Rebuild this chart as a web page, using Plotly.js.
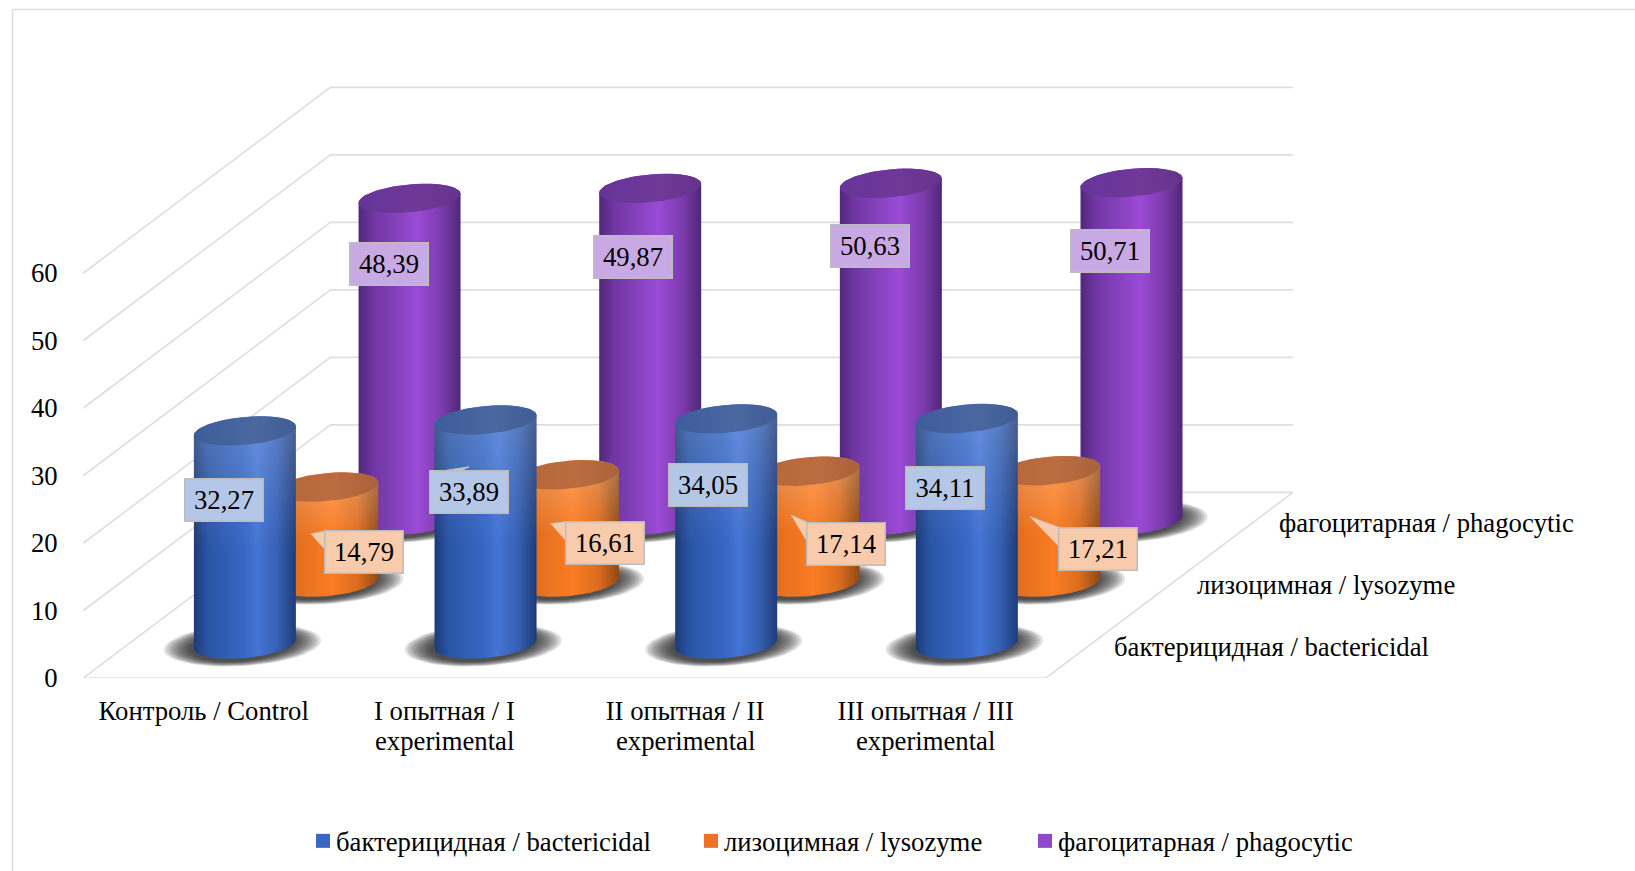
<!DOCTYPE html>
<html>
<head>
<meta charset="utf-8">
<script src="https://cdn.plot.ly/plotly-3.0.1.min.js"></script>
<style>
html,body{margin:0;padding:0;background:#fff}
#chart{width:1635px;height:871px}
/* Keep each legend swatch close to its text */
.legend .legendsymbols,.legend2 .legendsymbols,.legend3 .legendsymbols{transform:translateX(7px)}
</style>
</head>
<body>
<div id="chart"></div>
<script>
// Activity measurements per group
const categories = ['Контроль / Control', 'I опытная / I<br>experimental', 'II опытная / II<br>experimental', 'III опытная / III<br>experimental'];
const seriesNames = ['бактерицидная / bactericidal', 'лизоцимная / lysozyme', 'фагоцитарная / phagocytic'];
const bactericidal = [32.27, 33.89, 34.05, 34.11];
const lysozyme = [14.79, 16.61, 17.14, 17.21];
const phagocytic = [48.39, 49.87, 50.63, 50.71];
const valueTicks = [0, 10, 20, 30, 40, 50, 60];

// Callout offsets of the value labels from the top of each cylinder, in pixels
const labelDx = [[-21, -17, -18, -22], [37, 37, 37, 49], [-21, -17, -21, -22]];
const labelDy = [[71, 74, 68, 71], [67, 70, 74, 80], [67, 70, 64, 70]];
// Pointer tips of the lysozyme callouts, relative to the box corner, in pixels
const tailDx = [-14, -15, -15, -29];
const tailDy = [3, 2, -7, -11];

// Page scale of the oblique drawing
const W = 1635, H = 871, M_L = 67, M_B = 193;
const PX_CAT = 240.65, PX_VAL = 6.75, ORIGIN_X = 83.4, ORIGIN_Y = 678;
const DEPTH_X = 247 / PX_CAT, DEPTH_Y = 185.6 / PX_VAL;
const LAYER = [1 / 6, 1 / 2, 5 / 6];
const RX = 51 / PX_CAT, RY = 14 / PX_VAL, TILT = 4.5 / PX_VAL;
const TOP_INSET = 0.25, BASE_LIFT = 0.45;
const TEXT_SIZE = 26.7;

const px = (c, d) => c + d * DEPTH_X;
const py = (v, d) => v + d * DEPTH_Y;
const font = 'Liberation Serif, Times New Roman, serif';

const palette = [
  { body: [[0, '#1c3a78'], [0.14, '#2a55a6'], [0.5, '#3768c6'], [0.62, '#4474d4'], [0.82, '#3560b4'], [1, '#1f3c78']],
    cap: [[0, '#3d5c9c'], [0.6, '#4a689f'], [1, '#3f5c95']], glow: 0.2, label: '#b4c7e7', swatch: '#3a67c4' },
  { body: [[0, '#a85618'], [0.14, '#dd6c1c'], [0.55, '#fb7d24'], [0.8, '#dc6c1e'], [1, '#8f4a16']],
    cap: [[0, '#b5673a'], [0.6, '#bb6c40'], [1, '#a9623a']], glow: 0.26, label: '#f8cbad', swatch: '#ec7328' },
  { body: [[0, '#50277a'], [0.14, '#7036a2'], [0.58, '#9a4bd6'], [0.82, '#7b3bac'], [1, '#4f2778']],
    cap: [[0, '#66349a'], [0.6, '#6f3997'], [1, '#65338c']], glow: 0, label: '#c9a9e4', swatch: '#9249c9' }
];

const traces = [];
const skip = { mode: 'lines', line: { width: 0 }, hoverinfo: 'skip', showlegend: false };

// Walls and floor grid
const gx = [], gy = [];
valueTicks.forEach(v => {
  gx.push(px(0, 0), px(0, 1), px(4, 1), null);
  gy.push(py(v, 0), py(v, 1), py(v, 1), null);
});
gx.push(px(0, 0), px(4, 0), px(4, 1));
gy.push(py(0, 0), py(0, 0), py(0, 1));
traces.push({ x: gx, y: gy, mode: 'lines', line: { color: '#dedede', width: 1.6 }, hoverinfo: 'skip', showlegend: false });

// Sheared ellipse around a centre, used for caps, bases and shadows
function ellipse(cx, cy, rx, ry, tilt, from, to) {
  const xs = [], ys = [];
  for (let i = 0; i <= 48; i++) {
    const t = from + (to - from) * i / 48;
    xs.push(cx + rx * Math.cos(t));
    ys.push(cy + ry * Math.sin(t) + tilt * Math.cos(t));
  }
  return [xs, ys];
}

function cylinder(c, d, v, colors) {
  const cx = px(c + 0.5, d);
  const base = py(BASE_LIFT, d), top = py(v - TOP_INSET, d);

  // Soft contact shadow
  for (let k = 0; k < 10; k++) {
    const f = k / 9;
    const [sx, sy] = ellipse(cx - 2.5 / PX_CAT, base - 1 / PX_VAL, RX * (1.54 - 0.5 * f), RY * (1.5 - 0.35 * f), TILT, 0, 2 * Math.PI);
    traces.push({ ...skip, x: sx, y: sy, fill: 'toself', fillcolor: 'rgba(20,20,20,0.13)' });
  }

  // Wall: front half of the base arc closed by the rear of the top ring
  const [bx, by] = ellipse(cx, base, RX, RY, TILT, Math.PI, 2 * Math.PI);
  const [tx, ty] = ellipse(cx, top, RX, RY, TILT, 0, Math.PI);
  const wx = bx.concat(tx), wy = by.concat(ty);
  traces.push({ ...skip, x: wx, y: wy, fill: 'toself',
    fillgradient: { type: 'horizontal', colorscale: colors.body } });
  if (colors.glow) {
    traces.push({ ...skip, x: wx, y: wy, fill: 'toself',
      fillgradient: { type: 'vertical', colorscale: [[0, 'rgba(255,255,255,0)'], [0.45, 'rgba(255,255,255,0)'], [1, 'rgba(255,255,255,' + colors.glow + ')']] } });
  }

  // Top ring
  const [cxs, cys] = ellipse(cx, top, RX, RY, TILT, 0, 2 * Math.PI);
  traces.push({ ...skip, x: cxs, y: cys, fill: 'toself',
    fillgradient: { type: 'horizontal', colorscale: colors.cap } });
}

const allValues = [bactericidal, lysozyme, phagocytic];

// Paint from the back row to the front row
[2, 1, 0].forEach(s => {
  allValues[s].forEach((v, c) => cylinder(c, LAYER[s], v, palette[s]));
});

// Callout labels with their pointers
const annotations = [];
const BOX_W = 75, BOX_H = 39;
allValues.forEach((vals, s) => {
  vals.forEach((v, c) => {
    const ax = px(c + 0.5, LAYER[s]), ay = py(v, LAYER[s]);
    const dx = labelDx[s][c], dy = labelDy[s][c];
    const left = ax + (dx - BOX_W / 2 - 2) / PX_CAT, up = ay - (dy - BOX_H / 2 - 2) / PX_VAL;
    if (s === 1) {
      traces.push({ ...skip, x: [left + tailDx[c] / PX_CAT, left + 1 / PX_CAT, left + 1 / PX_CAT],
        y: [up - tailDy[c] / PX_VAL, up, up - 20 / PX_VAL],
        fill: 'toself', fillcolor: palette[s].label, line: { width: 1, color: '#bdbdbd' } });
    }
    if (s === 0 && c === 1) {
      traces.push({ ...skip, x: [left + 14 / PX_CAT, left + 40 / PX_CAT, left + 32 / PX_CAT], y: [up, up + 4 / PX_VAL, up],
        fill: 'toself', fillcolor: palette[s].label, line: { width: 1, color: '#bdbdbd' } });
    }
    annotations.push({
      x: ax, y: ay, xref: 'x', yref: 'y', xshift: dx, yshift: -dy, showarrow: false,
      text: v.toFixed(2).replace('.', ','), width: BOX_W, height: BOX_H, align: 'center', valign: 'middle',
      bgcolor: palette[s].label, bordercolor: '#bdbdbd', borderwidth: 1.5,
      font: { family: font, size: TEXT_SIZE, color: '#000' }
    });
  });
});

// Row names along the right edge of the floor
seriesNames.forEach((name, s) => {
  annotations.push({
    x: px(4, LAYER[s]), y: py(0, LAYER[s]), xref: 'x', yref: 'y', xshift: 25, showarrow: false,
    xanchor: 'left', yanchor: 'middle', text: name, font: { family: font, size: TEXT_SIZE, color: '#000' }
  });
});

// Axis labels are set one line per axis row, with tight leading for the second row
const firstLines = categories.map(t => t.split('<br>')[0]);
categories.forEach((t, i) => {
  const second = t.split('<br>')[1];
  if (second) {
    annotations.push({
      x: i + 0.5, y: 0, xref: 'x', yref: 'y', yshift: -63, showarrow: false, yanchor: 'middle',
      text: second, font: { family: font, size: TEXT_SIZE, color: '#000' }
    });
  }
});

// One legend per row so the entries keep their spacing
const paperX = p => (p - M_L) / (W - M_L);
const paperY = p => (ORIGIN_Y - p) / ORIGIN_Y;
const legendStarts = [296, 684, 1018];
const legendIds = ['legend', 'legend2', 'legend3'];
seriesNames.forEach((name, s) => {
  traces.push({ x: [null], y: [null], mode: 'markers', name, legend: legendIds[s],
    marker: { symbol: 'square', size: 14, color: palette[s].swatch }, hoverinfo: 'skip' });
});
const legendLayout = {};
legendIds.forEach((id, s) => {
  legendLayout[id] = { x: paperX(legendStarts[s]), xanchor: 'left', y: paperY(841), yanchor: 'middle',
    bgcolor: 'rgba(0,0,0,0)', font: { family: font, size: TEXT_SIZE, color: '#000' }, itemclick: false, itemdoubleclick: false };
});

const frame = { type: 'line', xref: 'paper', yref: 'paper', line: { color: '#dcdcdc', width: 1.6 } };

const layout = {
  width: W, height: H, showlegend: true,
  margin: { l: M_L, r: 0, t: 0, b: M_B, autoexpand: false },
  paper_bgcolor: '#ffffff', plot_bgcolor: 'rgba(0,0,0,0)',
  font: { family: font, size: TEXT_SIZE, color: '#000' },
  xaxis: {
    range: [(M_L - ORIGIN_X) / PX_CAT, (W - ORIGIN_X) / PX_CAT],
    tickmode: 'array', tickvals: categories.map((_, i) => i + 0.5), ticktext: firstLines,
    ticks: 'outside', ticklen: 9, tickcolor: 'rgba(0,0,0,0)', showgrid: false, zeroline: false, showline: false,
    tickfont: { family: font, size: TEXT_SIZE, color: '#000' }, fixedrange: true
  },
  yaxis: {
    range: [0, ORIGIN_Y / PX_VAL],
    tickmode: 'array', tickvals: valueTicks, ticktext: valueTicks.map(String),
    ticks: 'outside', ticklen: 3, tickcolor: 'rgba(0,0,0,0)', showgrid: false, zeroline: false, showline: false,
    tickfont: { family: font, size: TEXT_SIZE, color: '#000' }, fixedrange: true
  },
  annotations,
  shapes: [
    { ...frame, x0: paperX(12.5), x1: 1, y0: paperY(9.5), y1: paperY(9.5) },
    { ...frame, x0: paperX(12.5), x1: paperX(12.5), y0: paperY(9.5), y1: paperY(H) }
  ],
  ...legendLayout
};

Plotly.newPlot('chart', traces, layout, { displayModeBar: false, responsive: false });
</script>
</body>
</html>
